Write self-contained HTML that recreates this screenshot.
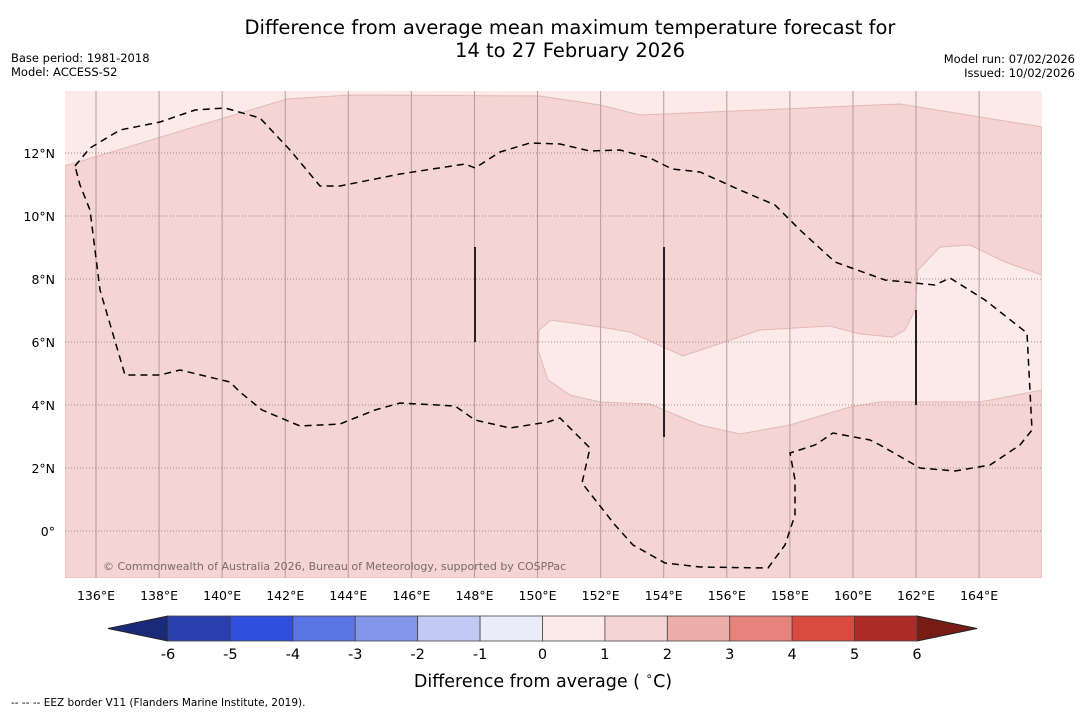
<!DOCTYPE html>
<html><head><meta charset="utf-8">
<style>
body{margin:0;background:#fff;font-family:"DejaVu Sans","Liberation Sans",sans-serif;}
svg{display:block}
</style></head>
<body>
<svg id="chart" width="1085" height="713" viewBox="0 0 1085 713" xmlns="http://www.w3.org/2000/svg">
<rect width="1085" height="713" fill="#fff"/>
<text x="570" y="34" text-anchor="middle" font-size="19.5" fill="#000">Difference from average mean maximum temperature forecast for</text>
<text x="570" y="57" text-anchor="middle" font-size="19.5" fill="#000">14 to 27 February 2026</text>
<text x="11" y="62" font-size="11.5">Base period: 1981-2018</text>
<text x="11" y="76" font-size="11.5">Model: ACCESS-S2</text>
<text x="1075" y="63" font-size="11.5" text-anchor="end">Model run: 07/02/2026</text>
<text x="1075" y="77" font-size="11.5" text-anchor="end">Issued: 10/02/2026</text>
<defs><clipPath id="mapclip"><rect x="65" y="91" width="977" height="487"/></clipPath></defs>
<g id="map" clip-path="url(#mapclip)"></g>
<g id="axes"></g>
<g id="cbar"></g>
<text x="543" y="687" text-anchor="middle" font-size="17.5">Difference from average ( <tspan font-size="12" dy="-7">∘</tspan><tspan dy="7">C)</tspan></text>
<text x="11" y="706" font-size="10.5">--  --  -- EEZ border V11 (Flanders Marine Institute, 2019).</text>
</svg>
<script>
const lonTicks=[136,138,140,142,144,146,148,150,152,154,156,158,160,162,164];
const latTicks=[0,2,4,6,8,10,12];
const cbarLevels=[-6,-5,-4,-3,-2,-1,0,1,2,3,4,5,6];
const cbarColors=["#283fad","#2f4fdf","#5a74e3","#8396e9","#c2caf4","#eaecfa","#fbeae8","#f5d5d3","#ecaea9","#e5837c","#d94a40","#ac2b26"];
const NS="http://www.w3.org/2000/svg";
const X=lon=>96+(lon-136)*31.54;
const Y=lat=>531-lat*31.5;
function mk(tag,attrs,parent){const e=document.createElementNS(NS,tag);for(const k in attrs)e.setAttribute(k,attrs[k]);parent.appendChild(e);return e;}
const map=document.getElementById('map'),axes=document.getElementById('axes'),cb=document.getElementById('cbar');
let bg=mk('rect',{x:65,y:91,width:977,height:487,fill:'#fbeae8'},map);


const P=a=>a.map((p,i)=>(i?'L':'M')+p[0]+','+p[1]).join('')+'Z';
let dark=mk('path',{d:P([[65,166],[287,99],[350,95],[540,96],[600,105],[640,115],[900,104],[1042,127],[1042,578],[65,578]]),fill:'#f5d5d3',stroke:'#e4b8b5','stroke-width':1},map);


let light=mk('path',{d:P([[918,270],[940,247],[970,245],[1005,262],[1042,275],[1042,390],[980,402],[880,402],[850,407],[790,425],[740,434],[700,425],[650,404],[600,402],[570,395],[548,380],[538,350],[539,330],[551,320],[600,327],[630,332],[683,356],[760,330],[830,326],[860,334],[893,337],[905,330],[915,310]]),fill:'#fbeae8',stroke:'#e4b8b5','stroke-width':1},map);


lonTicks.forEach(l=>{let g=mk('line',{x1:X(l),x2:X(l),y1:91,y2:578,stroke:'#b59c9a','stroke-width':1},map);


let t=mk('text',{x:X(l),y:600,'text-anchor':'middle','font-size':12.5},axes);t.textContent=l+'°E';

});
latTicks.forEach(l=>{let g=mk('line',{x1:65,x2:1042,y1:Y(l),y2:Y(l),stroke:'#a08a88','stroke-width':1,'stroke-dasharray':'1,2'},map);


let t=mk('text',{x:55,y:Y(l)+5,'text-anchor':'end','font-size':12.5},axes);t.textContent=l===0?'0°':l+'°N';

});
const eez=[[75,166],[90,148],[120,130],[160,122],[195,110],[225,108],[260,118],[290,150],[320,186],[340,186],[400,174],[465,164],[475,168],[500,152],[530,143],[560,144],[590,151],[620,150],[650,158],[672,169],[700,172],[740,190],[775,205],[800,230],[835,262],[885,280],[935,285],[950,278],[985,300],[1027,333],[1032,430],[1020,445],[990,465],[955,471],[920,468],[880,445],[870,440],[833,433],[815,445],[790,453],[795,480],[795,515],[785,545],[768,568],[700,567],[665,563],[633,545],[615,525],[582,483],[590,448],[575,433],[560,418],[548,422],[510,428],[475,420],[455,406],[400,403],[375,410],[340,424],[300,426],[262,410],[240,392],[230,382],[180,370],[160,375],[125,375],[100,290],[90,210],[80,185]];
let ez=mk('path',{d:P(eez),fill:'none',stroke:'#000','stroke-width':1.5,'stroke-dasharray':'7,5'},map);


[[475,247,342],[664,247,437],[916,310,405]].forEach(s=>{let l=mk('line',{x1:s[0],x2:s[0],y1:s[1],y2:s[2],stroke:'#222','stroke-width':2},map);

});
let cp=mk('text',{x:103,y:570,'font-size':11,fill:'#7a6a6a'},map);cp.textContent='© Commonwealth of Australia 2026, Bureau of Meteorology, supported by COSPPac';


const cx0=168,cx1=917,cy=616,ch=25;const CX=v=>cx0+(v-cbarLevels[0])/(cbarLevels[cbarLevels.length-1]-cbarLevels[0])*(cx1-cx0);
let lt=mk('path',{d:`M${cx0},${cy}L108,${cy+ch/2}L${cx0},${cy+ch}Z`,fill:'#1b2a78',stroke:'#222'},cb);


let rt=mk('path',{d:`M${cx1},${cy}L977,${cy+ch/2}L${cx1},${cy+ch}Z`,fill:'#7a1c16',stroke:'#222'},cb);


cbarColors.forEach((c,i)=>{let r=mk('rect',{x:CX(cbarLevels[i]),y:cy,width:CX(cbarLevels[i+1])-CX(cbarLevels[i]),height:ch,fill:c,stroke:'#444','stroke-width':0.8},cb);

});
cbarLevels.forEach(v=>{let t=mk('text',{x:CX(v),y:659,'text-anchor':'middle','font-size':14.5},cb);t.textContent=v;

});
</script>
</body></html>
